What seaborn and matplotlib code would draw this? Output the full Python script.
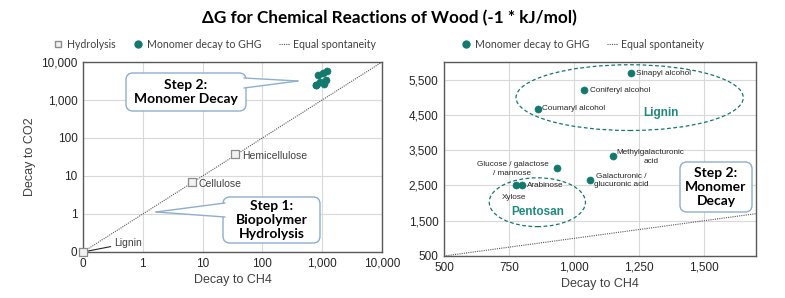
import numpy as np
import pandas as pd
import matplotlib
matplotlib.use("Agg")
import matplotlib.pyplot as plt
import seaborn as sns
from matplotlib.patches import FancyBboxPatch, Polygon, Ellipse
from matplotlib.lines import Line2D
from matplotlib.transforms import IdentityTransform

# datos
monomeros = ["Sinapyl alcohol", "Coniferyl alcohol", "Coumaryl alcohol",
             "Methylgalacturonic\nacid", "Glucose / galactose\n/ mannose",
             "Galacturonic /\nglucuronic acid", "Arabinose", "Xylose"]
monomero_ch4 = [1220, 1040, 860, 1150, 935, 1060, 800, 775]
monomero_co2 = [5700, 5200, 4680, 3330, 3000, 2660, 2520, 2520]

polimeros = ["Lignin", "Cellulose", "Hemicellulose"]
polimero_ch4 = [0.1, 6.6, 35]
polimero_co2 = [0.1, 6.8, 37]

log_ticks = [0.1, 1, 10, 100, 1000, 10000]
log_labels = ["0", "1", "10", "100", "1,000", "10,000"]
x_ticks_der = [500, 750, 1000, 1250, 1500]
x_labels_der = ["500", "750", "1,000", "1,250", "1,500"]
y_ticks_der = [500, 1500, 2500, 3500, 4500, 5500]
y_labels_der = ["500", "1,500", "2,500", "3,500", "4,500", "5,500"]

TEAL = "#13796d"
GRIS = "#404040"
BORDE_CALLOUT = "#8eaecf"

sns.set_theme(style="whitegrid")
plt.rcParams["font.family"] = ["Liberation Sans", "DejaVu Sans"]

W, H = 785, 298
fig = plt.figure(figsize=(W / 100, H / 100), dpi=100)


def px(x, y):
    return (x, H - y)


def callout(texto, caja, punta=None, base=None, fs=10):
    x0, y0, x1, y1 = caja
    bx, by = px(x0, y1)
    fig.patches.append(FancyBboxPatch(
        (bx, by), x1 - x0, y1 - y0, boxstyle="round,pad=0,rounding_size=7",
        transform=IdentityTransform(), facecolor="white", edgecolor=BORDE_CALLOUT,
        linewidth=1.0, zorder=5, figure=fig))
    if punta is not None:
        a, b = base
        pts = [px(*a), px(*punta), px(*b)]
        fig.patches.append(Polygon(pts, closed=True, transform=IdentityTransform(),
                                   facecolor="white", edgecolor="none", zorder=6, figure=fig))
        for p in (a, b):
            q1, q2 = px(*p), px(*punta)
            fig.lines.append(Line2D([q1[0], q2[0]], [q1[1], q2[1]], transform=IdentityTransform(),
                                    color=BORDE_CALLOUT, lw=1.0, zorder=7, figure=fig))
    fig.text((x0 + x1) / 2 / W, 1 - (y0 + y1) / 2 / H, texto, ha="center", va="center",
             fontsize=fs, fontweight="bold", family=["Lato", "DejaVu Sans"], color="black",
             linespacing=1.2, zorder=8)


def estilo_ejes(ax):
    ax.grid(True, color="#d9d9d9", linewidth=0.8)
    for s in ax.spines.values():
        s.set_visible(True)
        s.set_color("#595959")
        s.set_linewidth(1.0)
    ax.tick_params(length=0, labelsize=8.5, colors="#262626", pad=4)
    ax.set_facecolor("white")


# ---- panel izquierdo (log) ----
ax1 = fig.add_axes([83 / W, 46 / H, 299 / W, 190 / H])
estilo_ejes(ax1)
ax1.set_xscale("log")
ax1.set_yscale("log")
linea1 = pd.DataFrame({"x": [0.1, 10000], "y": [0.1, 10000]})
sns.lineplot(data=linea1, x="x", y="y", ax=ax1, color="#595959", linestyle=(0, (1, 1)), lw=0.8)
df_pol = pd.DataFrame({"ch4": polimero_ch4, "co2": polimero_co2, "nombre": polimeros})
sns.scatterplot(data=df_pol, x="ch4", y="co2", ax=ax1, marker="s", s=40, color="#f2f2f2",
                edgecolor="#8c8c8c", linewidth=0.9, clip_on=False, zorder=4)
df_mon = pd.DataFrame({"ch4": monomero_ch4, "co2": monomero_co2, "nombre": monomeros})
sns.scatterplot(data=df_mon, x="ch4", y="co2", ax=ax1, s=26, color=TEAL, edgecolor=TEAL,
                zorder=4)
ax1.set_xlim(0.1, 10000)
ax1.set_ylim(0.1, 10000)
ax1.set_xticks(log_ticks)
ax1.set_xticklabels(log_labels)
ax1.set_yticks(log_ticks)
ax1.set_yticklabels(log_labels)
ax1.minorticks_off()
ax1.set_xlabel("Decay to CH4", fontsize=9, color=GRIS, labelpad=3)
ax1.set_ylabel("Decay to CO2", fontsize=9, color=GRIS, labelpad=4)
for i, nombre in enumerate(polimeros):
    if nombre == "Lignin":
        ax1.annotate(nombre, (polimero_ch4[i], polimero_co2[i]), xytext=(0.33, 0.17),
                     fontsize=7.5, color=GRIS, va="center",
                     arrowprops=dict(arrowstyle="-", color="#262626", lw=0.8, shrinkA=0, shrinkB=2))
    else:
        ax1.annotate(nombre, (polimero_ch4[i], polimero_co2[i]), xytext=(5, -1),
                     textcoords="offset points", fontsize=7.5, color=GRIS, va="center")

# ---- panel derecho (lineal) ----
ax2 = fig.add_axes([444 / W, 42 / H, 312 / W, 194 / H])
estilo_ejes(ax2)
linea2 = pd.DataFrame({"x": [500, 1700], "y": [500, 1700]})
sns.lineplot(data=linea2, x="x", y="y", ax=ax2, color="#595959", linestyle=(0, (1, 1)), lw=0.8)
sns.scatterplot(data=df_mon, x="ch4", y="co2", ax=ax2, s=26, color=TEAL, edgecolor=TEAL,
                zorder=4)
ax2.set_xlim(500, 1700)
ax2.set_ylim(500, 6000)
ax2.set_xticks(x_ticks_der)
ax2.set_xticklabels(x_labels_der)
ax2.set_yticks(y_ticks_der)
ax2.set_yticklabels(y_labels_der)
ax2.set_xlabel("Decay to CH4", fontsize=9, color=GRIS, labelpad=3)
ax2.set_ylabel("")

etiquetas = {
    "Sinapyl alcohol": ((1237, 5670), "left"),
    "Coniferyl alcohol": ((1061, 5200), "left"),
    "Coumaryl alcohol": ((878, 4680), "left"),
    "Methylgalacturonic\nacid": ((1295, 3310), "center"),
    "Glucose / galactose\n/ mannose": ((763, 2970), "center"),
    "Galacturonic /\nglucuronic acid": ((1183, 2647), "center"),
    "Arabinose": ((821, 2506), "left"),
    "Xylose": ((771, 2167), "center"),
}
for nombre, (pos, ha) in etiquetas.items():
    ax2.text(pos[0], pos[1], nombre, fontsize=5.9, color="#262626", ha=ha, va="center",
             linespacing=1.3)

ax2.add_patch(Ellipse((1214, 4990), 874, 1864, fill=False, edgecolor=TEAL, lw=0.9,
                      linestyle=(0, (3, 2)), zorder=3))
ax2.add_patch(Ellipse((859, 2025), 370, 1384, fill=False, edgecolor=TEAL, lw=0.9,
                      linestyle=(0, (3, 2)), zorder=3))
ax2.text(1336, 4568, "Lignin", fontsize=8.5, fontweight="bold", color="#1f8a7c",
         ha="center", va="center")
ax2.text(859, 1743, "Pentosan", fontsize=8.5, fontweight="bold", color="#1f8a7c",
         ha="center", va="center")

# ---- callouts ----
callout("Step 2:\nMonomer Decay", (126, 73, 246, 111), punta=(298, 81), base=((244, 78), (244, 88)))
callout("Step 1:\nBiopolymer\nHydrolysis", (223, 197, 320, 243), punta=(156, 212),
        base=((225, 203), (225, 217)))
callout("Step 2:\nMonomer\nDecay", (680, 162, 752, 212))

# ---- leyendas y titulo ----
h_sq = Line2D([], [], marker="s", linestyle="none", markersize=5, markerfacecolor="#f2f2f2",
              markeredgecolor="#8c8c8c")
h_pt = Line2D([], [], marker="o", linestyle="none", markersize=5, color=TEAL)
h_ln = Line2D([], [], color="#595959", linestyle=(0, (1, 1)), lw=0.8)
fuente_ley = {"family": ["Lato", "DejaVu Sans"], "size": 7.6}
ley1 = fig.legend([h_sq, h_pt, h_ln], ["Hydrolysis", "Monomer decay to GHG", "Equal spontaneity"],
                  loc="center", bbox_to_anchor=(0.273, 0.852), ncol=3, frameon=False,
                  prop=fuente_ley, handlelength=1.0, handletextpad=0.4, columnspacing=1.6,
                  labelcolor=GRIS)
ley2 = fig.legend([h_pt, h_ln], ["Monomer decay to GHG", "Equal spontaneity"],
                  loc="center", bbox_to_anchor=(0.742, 0.852), ncol=2, frameon=False,
                  prop=fuente_ley, handlelength=1.0, handletextpad=0.4, columnspacing=1.6,
                  labelcolor=GRIS)

fig.text(0.496, 0.94, "ΔG for Chemical Reactions of Wood (-1 * kJ/mol)", ha="center",
         va="center", fontsize=12.3, fontweight="bold", family=["Lato", "DejaVu Sans"],
         color="black")

fig.savefig("out.png", dpi=100, facecolor="white")
